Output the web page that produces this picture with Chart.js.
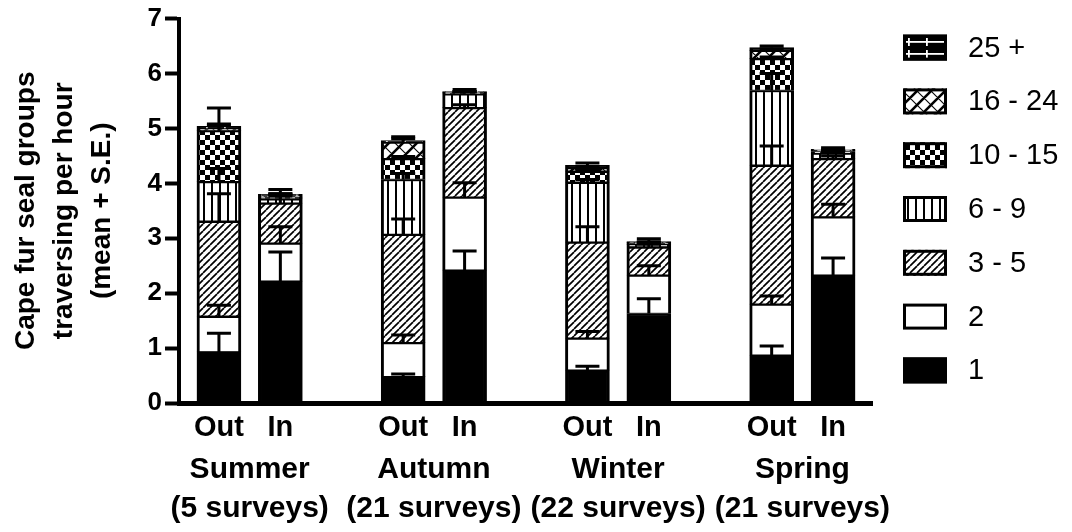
<!DOCTYPE html>
<html>
<head>
<meta charset="utf-8">
<script src="https://cdn.jsdelivr.net/npm/chart.js@4.4.1/dist/chart.umd.min.js"></script>
<style>
  html, body { margin: 0; padding: 0; background: #fff; }
</style>
</head>
<body>
<canvas id="sealChart" width="1072" height="532"></canvas>
<script>
// bar slots: Out / In for each season, one empty slot between seasons
const groupLabels = ['Out', 'In', 'Out', 'In', 'Out', 'In', 'Out', 'In'];
const xPos = [0, 1, 3, 4, 6, 7, 9, 10];
const seasons = ['Summer', 'Autumn', 'Winter', 'Spring'];
const surveys = ['(5 surveys)', '(21 surveys)', '(22 surveys)', '(21 surveys)'];
const sizeClasses = ['1', '2', '3 - 5', '6 - 9', '10 - 15', '16 - 24', '25 +'];

// mean groups per hour, per group size class
const mean1    = [0.93, 2.22, 0.48, 2.42, 0.60, 1.63, 0.87, 2.33];
const mean2    = [0.65, 0.69, 0.62, 1.33, 0.58, 0.70, 0.93, 1.06];
const mean3_5  = [1.73, 0.73, 1.97, 1.63, 1.75, 0.51, 2.53, 1.06];
const mean6_9  = [0.72, 0.08, 1.00, 0.25, 1.09, 0.05, 1.36, 0.10];
const mean10_15 = [0.93, 0.03, 0.38, 0.02, 0.20, 0.02, 0.58, 0.03];
const mean16_24 = [0.03, 0.02, 0.30, 0.01, 0.06, 0.01, 0.15, 0.02];
const mean25   = [0.05, 0.03, 0.03, 0.01, 0.05, 0.02, 0.05, 0.02];

// standard errors
const se1    = [0.34, 0.53, 0.05, 0.35, 0.07, 0.27, 0.17, 0.31];
const se2    = [0.20, 0.30, 0.14, 0.26, 0.12, 0.17, 0.15, 0.23];
const se3_5  = [0.50, 0.17, 0.28, 0.05, 0.28, 0.05, 0.35, 0.05];
const se6_9  = [0.24, 0.09, 0.11, 0.04, 0.05, 0.03, 0.31, 0.03];
const se10_15 = [0.41, 0.02, 0.04, 0.02, 0.03, 0.02, 0.03, 0.02];
const se16_24 = [0.09, 0.02, 0.06, 0.01, 0.02, 0.01, 0.03, 0.01];
const se25   = [0.02, 0.09, 0.07, 0.04, 0.04, 0.05, 0.03, 0.03];

const yTicks = [0, 1, 2, 3, 4, 5, 6, 7];

const FONT = '"Liberation Sans", Arial, Helvetica, sans-serif';

// fill patterns
function makePattern(w, h, draw) {
  const c = document.createElement('canvas');
  c.width = w; c.height = h;
  const g = c.getContext('2d');
  draw(g, w, h);
  return g.createPattern(c, 'repeat');
}

const solidBlack = '#000';
const plainWhite = '#fff';

const hatch = makePattern(7, 7, (g, w, h) => {
  g.fillStyle = '#fff'; g.fillRect(0, 0, w, h);
  g.strokeStyle = '#000'; g.lineWidth = 1.7;
  for (let k = -1; k <= 1; k++) {
    g.beginPath(); g.moveTo(k * w, h); g.lineTo(k * w + w, 0); g.stroke();
  }
});

const vlines = makePattern(8, 8, (g, w, h) => {
  g.fillStyle = '#fff'; g.fillRect(0, 0, w, h);
  g.fillStyle = '#000'; g.fillRect(3, 0, 2, h);
});

const checker = makePattern(10, 10, (g, w, h) => {
  g.fillStyle = '#fff'; g.fillRect(0, 0, w, h);
  g.fillStyle = '#000'; g.fillRect(0, 0, 5, 5); g.fillRect(5, 5, 5, 5);
});

const weave = makePattern(14, 14, (g, w, h) => {
  g.fillStyle = '#fff'; g.fillRect(0, 0, w, h);
  g.strokeStyle = '#000';
  g.lineWidth = 2.6;
  for (let k = -1; k <= 1; k++) {
    g.beginPath(); g.moveTo(k * w, h); g.lineTo(k * w + w, 0); g.stroke();
  }
  g.lineWidth = 1.1;
  for (let k = -1; k <= 1; k++) {
    g.beginPath(); g.moveTo(k * w, 0); g.lineTo(k * w + w, h); g.stroke();
  }
});

const bricks = makePattern(18, 12, (g, w, h) => {
  g.fillStyle = '#000'; g.fillRect(0, 0, w, h);
  g.fillStyle = '#fff';
  g.fillRect(0, 5, w, 1.8);
  g.fillRect(8, 2, 1.8, 8);
});

function series(values) {
  return values.map((v, i) => ({ x: xPos[i], y: v }));
}

const datasets = [
  { label: sizeClasses[0], data: series(mean1), errors: se1, backgroundColor: solidBlack },
  { label: sizeClasses[1], data: series(mean2), errors: se2, backgroundColor: plainWhite },
  { label: sizeClasses[2], data: series(mean3_5), errors: se3_5, backgroundColor: hatch },
  { label: sizeClasses[3], data: series(mean6_9), errors: se6_9, backgroundColor: vlines },
  { label: sizeClasses[4], data: series(mean10_15), errors: se10_15, backgroundColor: checker },
  { label: sizeClasses[5], data: series(mean16_24), errors: se16_24, backgroundColor: weave },
  { label: sizeClasses[6], data: series(mean25), errors: se25, backgroundColor: bricks },
].map(d => Object.assign(d, {
  borderColor: '#000',
  borderWidth: { top: 2, bottom: 1, left: 3, right: 3 },
  borderSkipped: false,
  barThickness: 44,
}));

// error bars from the top of each stacked segment
const errorBars = {
  id: 'errorBars',
  afterDatasetsDraw(chart) {
    const ctx = chart.ctx;
    const y = chart.scales.y;
    const base = new Array(xPos.length).fill(0);
    ctx.save();
    ctx.strokeStyle = '#000';
    ctx.lineWidth = 3;
    chart.data.datasets.forEach((ds, i) => {
      const meta = chart.getDatasetMeta(i);
      ds.data.forEach((pt, j) => {
        base[j] += pt.y;
        const err = ds.errors[j];
        if (!err) return;
        const bx = meta.data[j].x;
        const top = y.getPixelForValue(base[j]);
        const end = y.getPixelForValue(base[j] + err);
        ctx.beginPath();
        ctx.moveTo(bx, top); ctx.lineTo(bx, end);
        ctx.moveTo(bx - 12, end); ctx.lineTo(bx + 12, end);
        ctx.stroke();
      });
    });
    ctx.restore();
  }
};

// x axis line, category labels and legend
const extras = {
  id: 'extras',
  afterDraw(chart) {
    const { ctx, chartArea, scales: { x, y } } = chart;
    const y0 = y.getPixelForValue(0);
    ctx.save();
    ctx.fillStyle = '#000';
    ctx.fillRect(x.left - 2, y0 - 2, x.right - x.left + 2, 5);

    ctx.textAlign = 'center';
    ctx.textBaseline = 'middle';
    ctx.font = 'bold 29px ' + FONT;
    xPos.forEach((v, i) => ctx.fillText(groupLabels[i], x.getPixelForValue(v), chartArea.bottom + 25));
    ctx.font = 'bold 30px ' + FONT;
    seasons.forEach((s, k) => {
      const cx = x.getPixelForValue((xPos[2 * k] + xPos[2 * k + 1]) / 2);
      ctx.fillText(s, cx, chartArea.bottom + 67);
      ctx.fillText(surveys[k], cx, chartArea.bottom + 106);
    });

    // legend, top item = largest groups
    const lx = 903, ly = chartArea.top + 29, step = 53.8;
    ctx.textAlign = 'left';
    ctx.font = '29px ' + FONT;
    const ds = chart.data.datasets;
    for (let k = 0; k < ds.length; k++) {
      const d = ds[ds.length - 1 - k];
      const cy = ly + k * step;
      ctx.fillStyle = d.backgroundColor;
      ctx.fillRect(lx, cy - 13, 44, 26);
      ctx.strokeStyle = '#000';
      ctx.lineWidth = 3;
      ctx.strokeRect(lx + 1.5, cy - 11.5, 41, 23);
      ctx.fillStyle = '#000';
      ctx.fillText(d.label, lx + 65, cy + 1);
    }
    ctx.restore();
  }
};

const sealChart = new Chart(document.getElementById('sealChart'), {
  type: 'bar',
  data: { datasets: datasets },
  options: {
    responsive: false,
    animation: false,
    devicePixelRatio: 1,
    layout: { padding: { left: 0, right: 199, top: 18, bottom: 129 } },
    plugins: { legend: { display: false }, tooltip: { enabled: false } },
    scales: {
      x: { type: 'linear', stacked: true, offset: false, min: -0.65, max: 10.65, display: false },
      y: {
        stacked: true,
        min: yTicks[0],
        max: yTicks[yTicks.length - 1],
        afterBuildTicks: (scale) => { scale.ticks = yTicks.map(v => ({ value: v })); },
        ticks: { color: '#000', padding: 3, font: { family: FONT, size: 26, weight: 'bold' } },
        grid: { drawOnChartArea: false, drawTicks: true, tickLength: 14, tickWidth: 4, tickColor: '#000' },
        border: { color: '#000', width: 4 },
        title: {
          display: true,
          text: ['Cape fur seal groups', 'traversing per hour', '(mean + S.E.)'],
          color: '#000',
          font: { family: FONT, size: 28, weight: 'bold', lineHeight: 1.34 },
          padding: { top: 8, bottom: 24 }
        }
      }
    }
  },
  plugins: [errorBars, extras]
});
</script>
</body>
</html>
